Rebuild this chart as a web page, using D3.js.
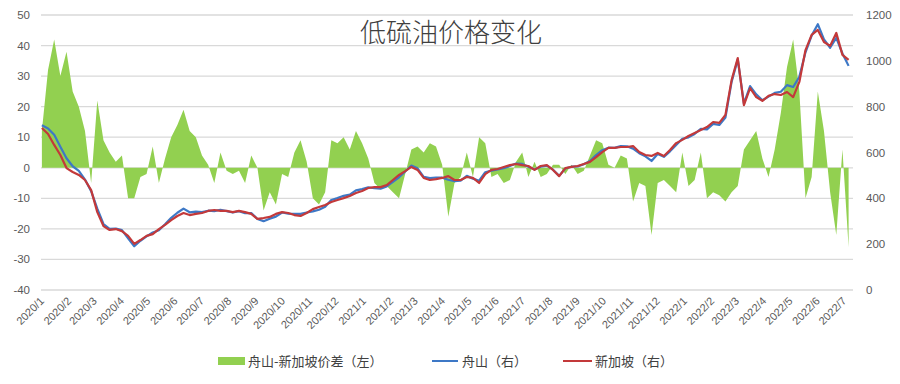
<!DOCTYPE html>
<html><head><meta charset="utf-8">
<script src="https://cdn.jsdelivr.net/npm/d3@7"></script>
<style>
body{margin:0;background:#fff;}
svg{display:block;}
</style></head>
<body><svg id="c" width="900" height="384"></svg>
<script>
// weekly observations starting 2020-01-02
const startDate = "2020-01-02";
const spread = [12,32,42,30,38,25,20,12,-5,22,9,5,2,4,-10,-10,-3,-2,7,-5,3,10,14,19,12,10,4,1,-5,5,-1,-2,-1,-5,4,0,-14,-8,-12,-2,-3,5,9,2,-10,-12,-8,9,8,10,6,12,8,3,-5,-7,-6,-8,-10,-2,6,7,5,8,7,1,-16,-5,-3,5,-3,10,8,-3,-2,-5,-4,2,5,-3,2,-3,-2,1,1,-2,1,-2,-1,4,9,8,1,0,4,3,-11,-5,-6,-22,-5,-4,-6,-8,5,-6,-4,5,-10,-8,-9,-11,-8,-6,6,9,12,3,-3,6,18,33,42,25,-10,-3,25,12,-8,-22,6,-26];
const zhoushan = [719,705,677,625,575,540,520,482,431,355,288,267,268,261,226,191,215,234,251,261,287,315,337,355,339,342,340,346,344,350,344,338,344,335,336,310,300,311,320,338,333,332,332,338,343,350,363,393,401,411,416,435,440,448,444,442,452,472,492,517,543,531,494,488,491,490,481,475,477,498,486,477,514,521,526,532,541,552,550,538,526,538,543,525,498,530,538,539,549,563,589,610,621,620,628,627,617,597,583,563,593,581,605,633,660,666,681,703,701,725,720,753,908,1006,813,890,854,828,844,860,865,894,886,930,1037,1110,1160,1094,1057,1100,1032,978];
const singapore = [707,681,633,589,532,515,502,480,436,340,279,262,266,257,236,201,218,236,244,266,284,305,323,336,327,332,336,345,349,345,345,340,345,340,332,310,314,319,332,340,336,327,323,336,353,362,371,384,393,401,410,423,432,445,449,449,458,480,502,519,537,524,489,480,484,489,497,480,480,493,489,467,506,524,528,537,545,550,545,541,524,541,545,524,497,532,537,541,550,559,580,602,620,620,624,624,628,602,589,585,598,585,611,641,655,672,685,698,711,733,729,764,916,1012,807,881,842,825,847,855,851,864,842,908,1047,1113,1135,1082,1065,1122,1026,1004];
const leftTicks = [-40,-30,-20,-10,0,10,20,30,40,50];
const rightTicks = [0,200,400,600,800,1000,1200];
const title = "低硫油价格变化";
const legendItems = ["舟山-新加坡价差（左）","舟山（右）","新加坡（右）"];

const svg = d3.select("#c");
const x0 = 41, x1 = 853, yTop = 15, yBot = 290;
const parse = d3.timeParse("%Y-%m-%d");
const t0 = parse(startDate);
const dates = spread.map((d,i)=>d3.timeDay.offset(t0, 7*i));
const x = d3.scaleTime().domain([parse("2020-01-01"), parse("2022-07-12")]).range([x0,x1]);
const yL = d3.scaleLinear().domain([-40,50]).range([yBot,yTop]);
const yR = d3.scaleLinear().domain([0,1200]).range([yBot,yTop]);

// gridlines
svg.append("g").selectAll("line").data(leftTicks).join("line")
  .attr("x1",x0).attr("x2",x1).attr("y1",d=>yL(d)).attr("y2",d=>yL(d))
  .attr("stroke","#d9d9d9").attr("stroke-width",1.3);

// spread area
const area = d3.area().x((d,i)=>x(dates[i])).y0(yL(0)).y1(d=>yL(d));
svg.append("path").datum(spread).attr("d",area).attr("fill","#92d050");

const line = d3.line().x((d,i)=>x(dates[i])).y(d=>yR(d));
svg.append("path").datum(zhoushan).attr("d",line).attr("fill","none")
  .attr("stroke","#3d78c6").attr("stroke-width",2.2).attr("stroke-linejoin","round");
svg.append("path").datum(singapore).attr("d",line).attr("fill","none")
  .attr("stroke","#c3393a").attr("stroke-width",2.2).attr("stroke-linejoin","round");

// left axis labels
const tickFont = "'Liberation Sans', Arial, sans-serif";
svg.append("g").selectAll("text").data(leftTicks).join("text")
  .attr("x",30).attr("y",d=>yL(d)).attr("dy","0.35em").attr("text-anchor","end")
  .attr("font-family",tickFont).attr("font-size",11.5).attr("fill","#595959").text(d=>d);
svg.append("g").selectAll("text").data(rightTicks).join("text")
  .attr("x",866).attr("y",d=>yR(d)).attr("dy","0.35em").attr("text-anchor","start")
  .attr("font-family",tickFont).attr("font-size",11.5).attr("fill","#595959").text(d=>d);

// x axis labels
const months = d3.timeMonth.range(parse("2020-01-01"), parse("2022-07-02"));
const fmt = d3.timeFormat("%Y/%-m");
svg.append("g").selectAll("text").data(months).join("text")
  .attr("transform",d=>`translate(${x(d)+1},${yBot+9}) rotate(-45)`)
  .attr("text-anchor","end").attr("dy","0.35em")
  .attr("font-family",tickFont).attr("font-size",11).attr("fill","#595959").text(fmt);

// title
svg.append("text").attr("x",451).attr("y",33).attr("dy","0.35em").attr("text-anchor","middle")
  .attr("font-family","'Noto Sans CJK SC', sans-serif").attr("font-weight",300)
  .attr("font-size",26).attr("fill","#404040").text(title);

// legend
const lg = svg.append("g").attr("font-family","'Noto Sans CJK SC', sans-serif").attr("font-size",13).attr("fill","#404040");
lg.append("rect").attr("x",218).attr("y",357).attr("width",27).attr("height",8).attr("fill","#92d050");
lg.append("text").attr("x",248).attr("y",361).attr("dy","0.35em").text(legendItems[0]);
lg.append("line").attr("x1",432).attr("x2",458).attr("y1",361).attr("y2",361).attr("stroke","#3d78c6").attr("stroke-width",2);
lg.append("text").attr("x",462).attr("y",361).attr("dy","0.35em").text(legendItems[1]);
lg.append("line").attr("x1",563).attr("x2",592).attr("y1",361).attr("y2",361).attr("stroke","#c3393a").attr("stroke-width",2);
lg.append("text").attr("x",595).attr("y",361).attr("dy","0.35em").text(legendItems[2]);
</script></body></html>
